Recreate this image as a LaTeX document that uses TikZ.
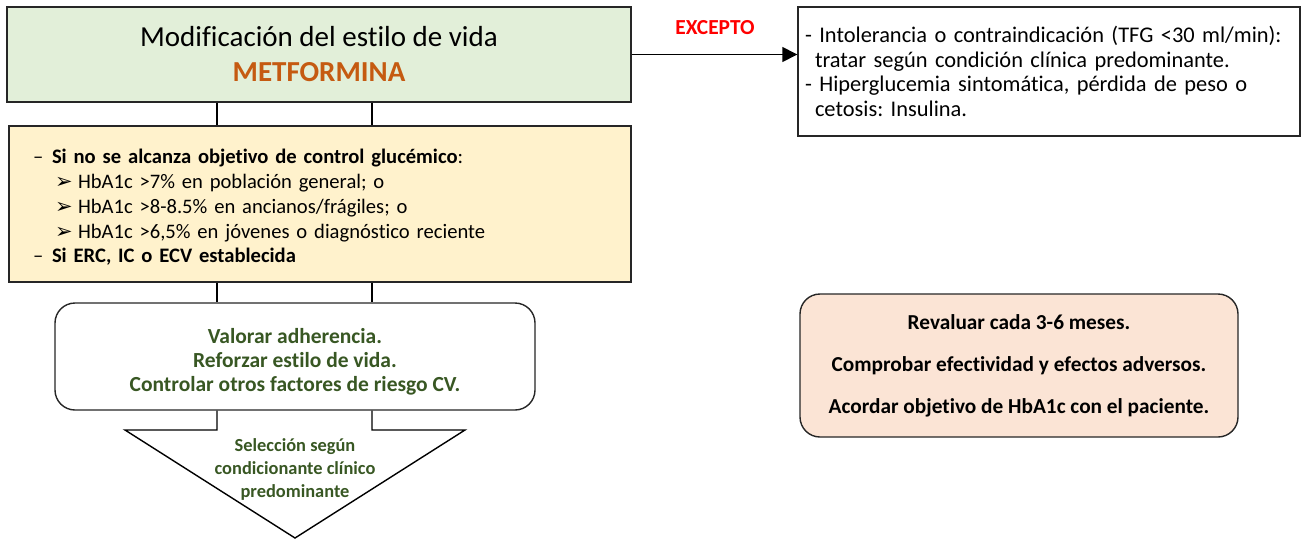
\documentclass[tikz,border=0pt]{standalone}
\usepackage{fontspec}
\setmainfont{Carlito}[Ligatures=NoCommon]
\newfontfamily\dejavu{DejaVu Sans}
\usetikzlibrary{arrows.meta,positioning}
\frenchspacing

\definecolor{verdeclaro}{HTML}{E2EFD9}
\definecolor{amarillo}{HTML}{FFF2CC}
\definecolor{rosado}{HTML}{FBE4D5}
\definecolor{naranja}{HTML}{C55A11}
\definecolor{verdeosc}{HTML}{385723}
\definecolor{borde}{HTML}{262626}

\newcommand{\flechita}{\makebox[23pt][l]{{\dejavu\fontsize{21}{16}\selectfont ➢}}}
\newcommand{\guion}{\makebox[19pt][l]{–}}

\begin{document}
\begin{tikzpicture}[x=1pt,y=-1pt,line width=1.4pt,
    caja/.style={draw=borde,inner sep=0pt},
    redondeada/.style={caja,rounded corners=20pt},
    textoverde/.style={text=verdeosc,font=\bfseries\fontsize{21.5}{24}\selectfont,align=center}]
    \useasboundingbox (0,0) rectangle (1309,541);

        \node[caja,fill=verdeclaro,minimum width=624pt,minimum height=95pt,align=center,
              font=\fontsize{29}{35}\selectfont] (estilo) at (319,54.5)
              {Modificación del estilo de vida\\\textcolor{naranja}{\textbf{METFORMINA}}};
        \node[caja,fill=amarillo,minimum height=156pt,text width=574pt,inner xsep=24pt,align=left,
              font=\fontsize{20.6}{24.8}\selectfont] (criterios) at (320,204)
              {\rule{0pt}{21.5pt}\guion\textbf{Si no se alcanza objetivo de control glucémico}:\\
               \hspace*{22pt}\flechita HbA1c >7\% en población general; o\\
               \hspace*{22pt}\flechita HbA1c >8-8.5\% en ancianos/frágiles; o\\
               \hspace*{22pt}\flechita HbA1c >6,5\% en jóvenes o diagnóstico reciente\\
               \guion\textbf{Si ERC, IC o ECV establecida}};
        \node[redondeada,fill=white,minimum width=480pt,minimum height=107pt,textoverde] (valorar) at (295,356.5)
              {\rule{0pt}{26pt}Valorar adherencia.\\Reforzar estilo de vida.\\Controlar otros factores de riesgo CV.};
        \node[textoverde,font=\bfseries\fontsize{18.4}{23}\selectfont] (seleccion) at (295,469)
              {Selección según\\condicionante clínico\\predominante};
        \node[caja,fill=white,minimum width=502pt,minimum height=129pt,text width=488pt,inner xsep=7pt,
              align=left,font=\fontsize{22.4}{24.7}\selectfont] (excepto) at (1049,71.5)
              {- Intolerancia o contraindicación (TFG <30 ml/min):\\
               \hspace*{10pt}tratar según condición clínica predominante.\\
               - Hiperglucemia sintomática, pérdida de peso o\\
               \hspace*{10pt}cetosis: Insulina.};
        \node[text=red,font=\bfseries\fontsize{21.4}{22}\selectfont] (rotulo) at (715,28) {EXCEPTO};
        \node[redondeada,fill=rosado,minimum width=438pt,minimum height=143pt,align=center,
              font=\bfseries\fontsize{21.3}{42}\selectfont] (revaluar) at (1019,365.5)
              {Revaluar cada 3-6 meses.\\Comprobar efectividad y efectos adversos.\\Acordar objetivo de HbA1c con el paciente.};

        \coordinate (izq) at (217,0);
        \coordinate (der) at (372,0);
        \coordinate (hombroizq) at (217,430);
        \coordinate (hombroder) at (372,430);
        \coordinate (punta) at (295,538);

        \path [-{Triangle[length=15pt,width=15pt]}] (estilo.east) edge (excepto.west |- estilo.east);
        \draw (estilo.south -| izq) -- (criterios.north -| izq);
        \draw (estilo.south -| der) -- (criterios.north -| der);
        \draw (criterios.south -| izq) -- (valorar.north -| izq);
        \draw (criterios.south -| der) -- (valorar.north -| der);
        \draw (valorar.south -| izq) -- (hombroizq) -- (125,430) -- (punta) -- (465,430) -- (hombroder) -- (valorar.south -| der);

    \end{tikzpicture}
\end{document}
